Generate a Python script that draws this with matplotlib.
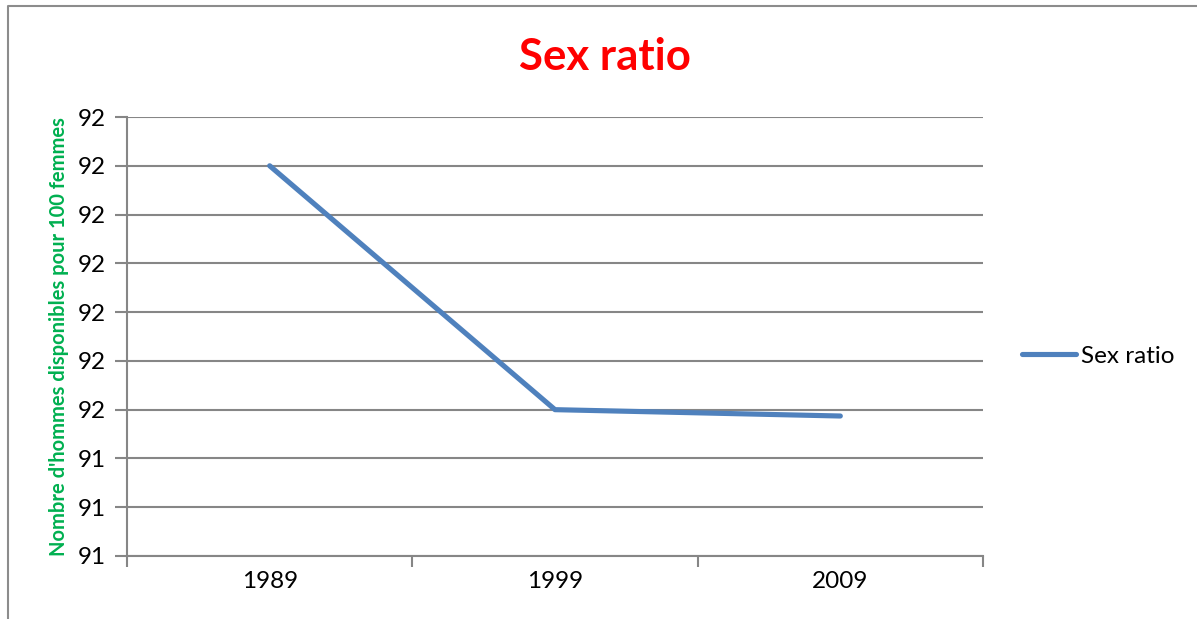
import numpy as np
import matplotlib
matplotlib.use("Agg")
import matplotlib.pyplot as plt
from matplotlib.lines import Line2D
from matplotlib.ticker import FixedLocator, FuncFormatter

# Sex ratio data
years = ["1989", "1999", "2009"]
sex_ratio = [92.0, 91.5, 91.487]
y_ticks = [91.2, 91.3, 91.4, 91.5, 91.6, 91.7, 91.8, 91.9, 92.0, 92.1]

W, H = 1197, 619
fig = plt.figure(figsize=(W / 100, H / 100), dpi=100)
plt.rcParams["font.family"] = ["Lato", "DejaVu Sans"]

grid_col = "#868686"
ax = fig.add_axes([127 / W, (H - 556) / H, (983 - 127) / W, (556 - 117) / H])

x = np.arange(len(years))
ax.plot(x, sex_ratio, color="#4F81BD", lw=3.7, solid_capstyle="round",
        solid_joinstyle="round", label="Sex ratio", zorder=3)

ax.set_xlim(-0.5, len(years) - 0.5)
ax.set_ylim(y_ticks[0], y_ticks[-1])

# y axis: gridlines and rounded labels
ax.yaxis.set_major_locator(FixedLocator(y_ticks))
ax.yaxis.set_major_formatter(FuncFormatter(lambda v, p: f"{int(np.floor(v + 0.5 + 1e-9))}"))
ax.grid(axis="y", color=grid_col, lw=1.5)
ax.tick_params(axis="y", length=9, width=1.5, color=grid_col, labelsize=17.5, pad=6)

# x axis: tick marks between categories, labels at centres
ax.xaxis.set_major_locator(FixedLocator(np.arange(-0.5, len(years), 1.0)))
ax.xaxis.set_major_formatter(FuncFormatter(lambda v, p: ""))
ax.xaxis.set_minor_locator(FixedLocator(x))
ax.xaxis.set_minor_formatter(FuncFormatter(lambda v, p: years[int(round(v))]))
ax.tick_params(axis="x", which="major", length=8, width=1.5, color=grid_col)
ax.tick_params(axis="x", which="minor", length=0, labelsize=17.5, pad=11)

for s in ["top", "right"]:
    ax.spines[s].set_visible(False)
for s in ["left", "bottom"]:
    ax.spines[s].set_color(grid_col)
    ax.spines[s].set_linewidth(1.5)

ax.set_ylabel("Nombre d'hommes disponibles pour 100 femmes", color="#00B050",
              fontsize=14.5, fontweight="bold")
ax.yaxis.set_label_coords(-58 / (983 - 127), 0.5)

fig.text(605 / W, 1 - 57 / H, "Sex ratio", color="#FF0000", fontsize=31.5,
         fontweight="bold", ha="center", va="center")

ax.legend(loc="center left", bbox_to_anchor=(1012 / W, 1 - 356 / H),
          bbox_transform=fig.transFigure, frameon=False, fontsize=17.5,
          handlelength=2.25, handletextpad=0.17, borderaxespad=0)

# chart area border
fig.add_artist(Line2D([8 / W, 8 / W, 1.0], [0.0, 1 - 6 / H, 1 - 6 / H],
                      color="#8C8C8C", lw=1.5))

fig.savefig("out.png", dpi=100, facecolor="white")
